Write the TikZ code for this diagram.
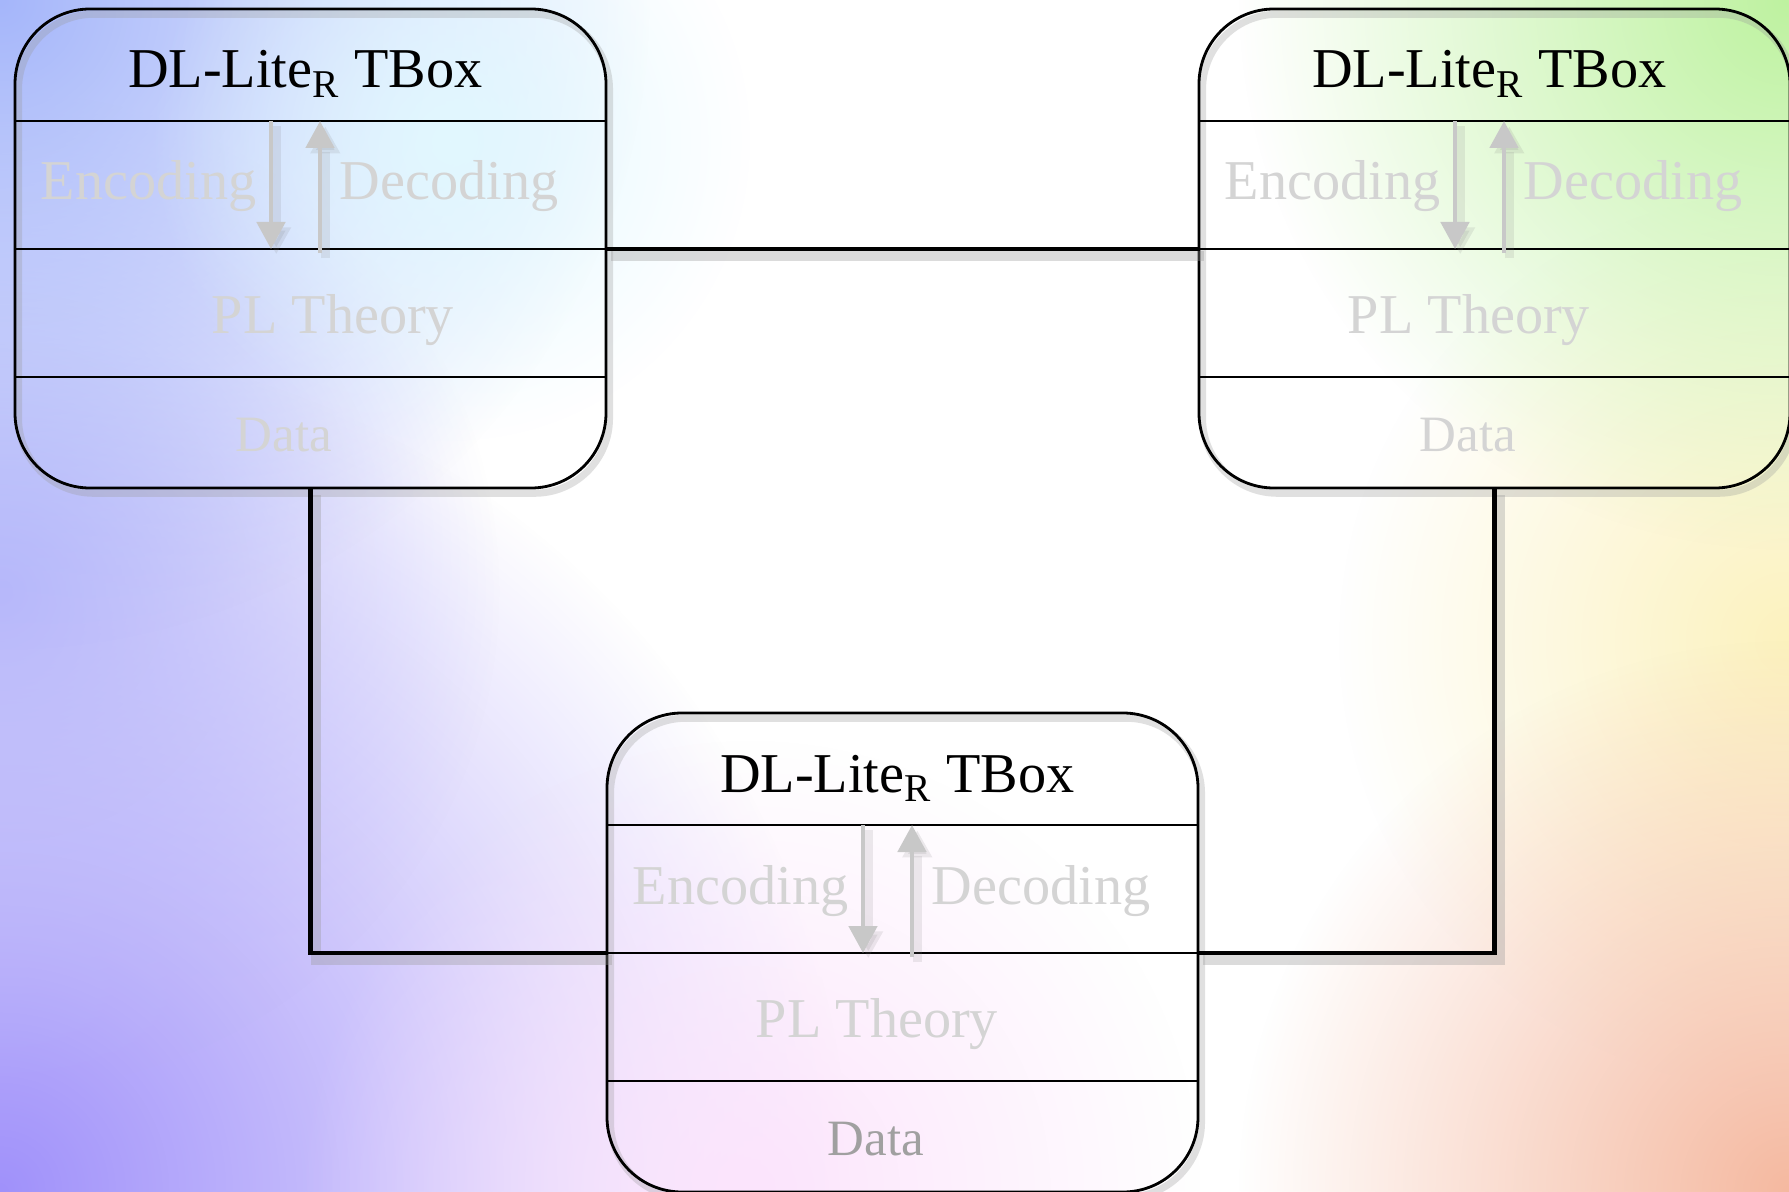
\documentclass[tikz,border=0pt]{standalone}
\usepackage{fontspec}
\setmainfont{Liberation Serif}
\usepackage{tikz}
\usetikzlibrary{arrows.meta, positioning, fadings}
\definecolor{bgblue}{RGB}{165,182,250}
\definecolor{bgpurple}{RGB}{160,145,250}
\definecolor{bglilac}{RGB}{185,185,250}
\definecolor{bggreen}{RGB}{190,242,160}
\definecolor{bgpeach}{RGB}{245,185,160}
\definecolor{bgyellow}{RGB}{252,242,190}
\definecolor{bgpink}{RGB}{252,228,252}
\definecolor{bgcyan}{RGB}{225,248,255}
\definecolor{layergray}{RGB}{212,212,212}
\definecolor{datagray}{RGB}{160,160,160}
\definecolor{arrowgray}{RGB}{200,200,200}
\tikzfading[name=blob, inner color=transparent!0, outer color=transparent!100]

\begin{document}
\begin{tikzpicture}[
    tbox/.style={draw=black, line width=0.8pt, rounded corners=0.75cm, minimum width=5.91cm, minimum height=4.79cm, inner sep=0pt, outer sep=0pt, preaction={draw=black!40, opacity=0.3, line width=2pt, transform canvas={xshift=1pt, yshift=-1.5pt}}},
    sep/.style={draw=black, line width=0.7pt},
    ttl/.style={font=\fontsize{16pt}{19pt}\selectfont, inner sep=0pt, text=black},
    lyr/.style={font=\fontsize{16pt}{19pt}\selectfont, inner sep=0pt, text=layergray},
    datatxt/.style={font=\fontsize{14.5pt}{17pt}\selectfont, inner sep=0pt, text=layergray},
    codec/.style={draw=arrowgray, line width=1.4pt, -{Triangle[width=0.28cm, length=0.27cm]}, preaction={draw=black!50, opacity=0.15, line width=2.5pt, transform canvas={xshift=1.5pt, yshift=-1.5pt}}},
    link/.style={draw=black, line width=1.4pt, preaction={draw=black!40, opacity=0.35, line width=3pt, transform canvas={xshift=1.5pt, yshift=-2pt}}}
]

% Background
\useasboundingbox (0,0) rectangle (17.89,11.91);
\begin{scope}
\clip (0,0) rectangle (17.89,11.91);
\fill[white] (0,0) rectangle (17.89,11.91);
\fill[bgpurple, path fading=blob] (0,0) circle (8.5cm);
\fill[bglilac, path fading=blob] (0,6) circle (5cm);
\fill[bgblue, path fading=blob] (0,11.91) circle (6.5cm);
\fill[bgcyan, path fading=blob] (4.5,10.5) circle (3cm);
\fill[bgpink, path fading=blob] (7.5,0) circle (4.5cm);
\fill[bgyellow, path fading=blob] (17.89,5.5) circle (4.5cm);
\fill[bggreen, path fading=blob] (17.89,11.91) circle (5.5cm);
\fill[bgpeach, path fading=blob] (17.89,0) circle (5.5cm);
\end{scope}

% Knowledge bases
\node[tbox] (tbA) at (3.105,9.425) {};
\node[tbox, below right=2.25cm and 0.01cm of tbA] (tbB) {};
\node[tbox, above right=2.25cm and 0.01cm of tbB] (tbC) {};

% Links between knowledge bases
\draw[link] ([yshift=-2.40cm]tbA.north east) -- ([yshift=-2.40cm]tbC.north west);
\draw[link] (tbA.south) |- ([yshift=-2.40cm]tbB.north west);
\draw[link] (tbC.south) |- ([yshift=-2.40cm]tbB.north east);

% Left box
\draw[sep] ([yshift=-1.12cm]tbA.north west) -- ([yshift=-1.12cm]tbA.north east);
\draw[sep] ([yshift=-2.40cm]tbA.north west) -- ([yshift=-2.40cm]tbA.north east);
\draw[sep] ([yshift=-3.68cm]tbA.north west) -- ([yshift=-3.68cm]tbA.north east);
\node[ttl, anchor=base] (tbA-ttl) at ([xshift=-0.05cm, yshift=-0.79cm]tbA.north) {DL-Lite\textsubscript{R} TBox};
\node[lyr, anchor=base east] (tbA-enc) at ([xshift=2.42cm, yshift=-1.91cm]tbA.north west) {Encoding};
\node[lyr, anchor=base west] (tbA-dec) at ([xshift=3.24cm, yshift=-1.91cm]tbA.north west) {Decoding};
\node[lyr, anchor=base] (tbA-pl) at ([xshift=3.18cm, yshift=-3.24cm]tbA.north west) {PL Theory};
\node[datatxt, anchor=base] (tbA-data) at ([xshift=2.69cm, yshift=-4.42cm]tbA.north west) {Data};
\draw[codec] ([xshift=2.56cm, yshift=-1.12cm]tbA.north west) -- ([xshift=2.56cm, yshift=-2.40cm]tbA.north west);
\draw[codec] ([xshift=3.05cm, yshift=-2.44cm]tbA.north west) -- ([xshift=3.05cm, yshift=-1.12cm]tbA.north west);

% Bottom box
\draw[sep] ([yshift=-1.12cm]tbB.north west) -- ([yshift=-1.12cm]tbB.north east);
\draw[sep] ([yshift=-2.40cm]tbB.north west) -- ([yshift=-2.40cm]tbB.north east);
\draw[sep] ([yshift=-3.68cm]tbB.north west) -- ([yshift=-3.68cm]tbB.north east);
\node[ttl, anchor=base] (tbB-ttl) at ([xshift=-0.05cm, yshift=-0.79cm]tbB.north) {DL-Lite\textsubscript{R} TBox};
\node[lyr, anchor=base east] (tbB-enc) at ([xshift=2.42cm, yshift=-1.91cm]tbB.north west) {Encoding};
\node[lyr, anchor=base west] (tbB-dec) at ([xshift=3.24cm, yshift=-1.91cm]tbB.north west) {Decoding};
\node[lyr, anchor=base] (tbB-pl) at ([xshift=2.70cm, yshift=-3.24cm]tbB.north west) {PL Theory};
\node[datatxt, anchor=base, text=datagray] (tbB-data) at ([xshift=2.69cm, yshift=-4.42cm]tbB.north west) {Data};
\draw[codec] ([xshift=2.56cm, yshift=-1.12cm]tbB.north west) -- ([xshift=2.56cm, yshift=-2.40cm]tbB.north west);
\draw[codec] ([xshift=3.05cm, yshift=-2.44cm]tbB.north west) -- ([xshift=3.05cm, yshift=-1.12cm]tbB.north west);

% Right box
\draw[sep] ([yshift=-1.12cm]tbC.north west) -- ([yshift=-1.12cm]tbC.north east);
\draw[sep] ([yshift=-2.40cm]tbC.north west) -- ([yshift=-2.40cm]tbC.north east);
\draw[sep] ([yshift=-3.68cm]tbC.north west) -- ([yshift=-3.68cm]tbC.north east);
\node[ttl, anchor=base] (tbC-ttl) at ([xshift=-0.05cm, yshift=-0.79cm]tbC.north) {DL-Lite\textsubscript{R} TBox};
\node[lyr, anchor=base east] (tbC-enc) at ([xshift=2.42cm, yshift=-1.91cm]tbC.north west) {Encoding};
\node[lyr, anchor=base west] (tbC-dec) at ([xshift=3.24cm, yshift=-1.91cm]tbC.north west) {Decoding};
\node[lyr, anchor=base] (tbC-pl) at ([xshift=2.70cm, yshift=-3.24cm]tbC.north west) {PL Theory};
\node[datatxt, anchor=base] (tbC-data) at ([xshift=2.69cm, yshift=-4.42cm]tbC.north west) {Data};
\draw[codec] ([xshift=2.56cm, yshift=-1.12cm]tbC.north west) -- ([xshift=2.56cm, yshift=-2.40cm]tbC.north west);
\draw[codec] ([xshift=3.05cm, yshift=-2.44cm]tbC.north west) -- ([xshift=3.05cm, yshift=-1.12cm]tbC.north west);

\end{tikzpicture}
\end{document}
